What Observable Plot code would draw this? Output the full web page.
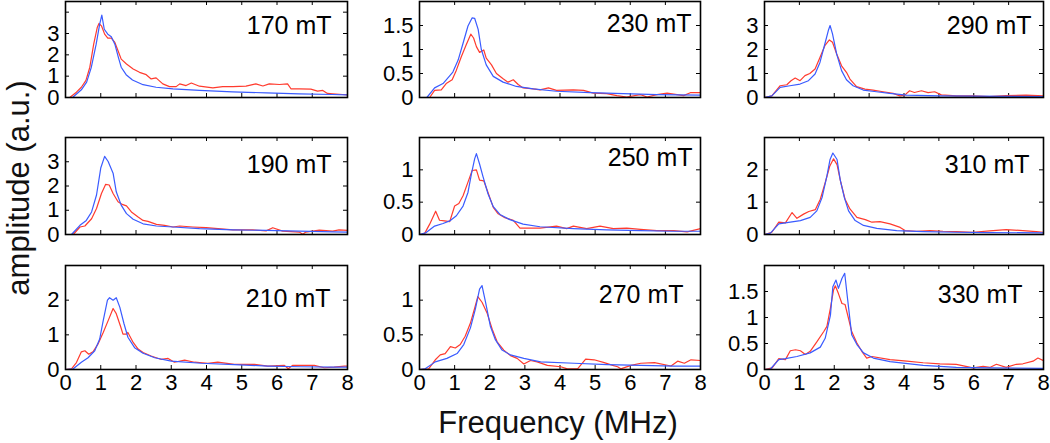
<!DOCTYPE html>
<html><head><meta charset="utf-8">
<script src="https://cdn.jsdelivr.net/npm/d3@7"></script>
<script src="https://cdn.jsdelivr.net/npm/@observablehq/plot@0.6"></script>
<style>
body{margin:0;background:#fff;}
#chart{position:relative;width:1050px;height:443px;font-family:"Liberation Sans",Arial,sans-serif;overflow:hidden;}
#chart svg{position:absolute;}
</style></head><body><div id="chart"></div>
<script>
// ---- data (frequency MHz, amplitude a.u.) ----
const fieldLabels = ["170 mT","190 mT","210 mT","230 mT","250 mT","270 mT","290 mT","310 mT","330 mT"];
const xTicks = [0,1,2,3,4,5,6,7,8];
const yMaxes = [4.5, 4, 3, 2, 1.5, 1.5, 4, 3, 2];
const yTickLabels = [[0,1,2,3],[0,1,2,3],[0,1,2],[0,0.5,1,1.5],[0,0.5,1],[0,0.5,1],[0,1,2,3],[0,1,2],[0,0.5,1,1.5]];
const yTickMarks = [[1,2,3,4],[1,2,3],[1,2],[0.5,1,1.5],[0.5,1],[0.5,1],[1,2,3],[1,2],[0.5,1,1.5]];

const blue170 = [[0,0],[0.2,0],[0.45,0.36],[0.6,0.72],[0.73,1.4],[0.87,2.5],[0.97,3.44],[1.03,3.86],[1.1,3.2],[1.2,2.97],[1.3,2.85],[1.4,2.5],[1.5,1.88],[1.58,1.42],[1.72,1.07],[1.9,0.82],[2.2,0.6],[2.57,0.48],[3.05,0.4],[3.8,0.33],[4.74,0.26],[5.7,0.22],[6.63,0.17],[7.57,0.14],[8,0.12]];
const red170 = [[0,0],[0.12,0],[0.31,0.25],[0.45,0.48],[0.58,0.8],[0.69,1.42],[0.8,2.5],[0.9,3.28],[0.95,3.47],[1.02,3.36],[1.11,2.97],[1.2,2.78],[1.3,2.78],[1.4,2.58],[1.49,2.19],[1.58,1.8],[1.73,1.57],[1.92,1.34],[2.1,1.18],[2.29,1.07],[2.43,0.87],[2.57,0.92],[2.76,0.64],[2.95,0.51],[3.14,0.51],[3.24,0.64],[3.42,0.56],[3.57,0.68],[3.8,0.53],[4.18,0.45],[4.46,0.51],[4.75,0.51],[5.12,0.53],[5.4,0.64],[5.6,0.54],[5.78,0.64],[6.07,0.61],[6.3,0.64],[6.4,0.4],[6.63,0.4],[6.96,0.39],[7.15,0.3],[7.3,0.33],[7.43,0.19],[7.58,0.17],[7.86,0.14],[8,0.12]];

const blue190 = [[0,0],[0.17,0],[0.41,0.38],[0.59,0.58],[0.74,0.93],[0.88,1.63],[1.0,2.74],[1.11,3.22],[1.21,3.01],[1.35,2.53],[1.44,1.76],[1.58,1.21],[1.73,0.86],[1.92,0.63],[2.2,0.44],[2.58,0.35],[3.05,0.31],[3.8,0.24],[4.75,0.19],[5.69,0.17],[6.63,0.14],[7.58,0.11],[8,0.1]];
const red190 = [[0,0],[0.22,0],[0.41,0.31],[0.55,0.35],[0.74,0.65],[0.88,1.07],[1.02,1.69],[1.14,2.07],[1.24,2.04],[1.35,1.69],[1.49,1.35],[1.61,1.24],[1.73,1.18],[1.87,0.93],[2.06,0.72],[2.2,0.58],[2.34,0.54],[2.58,0.42],[2.81,0.38],[3.05,0.31],[3.24,0.35],[3.61,0.31],[3.99,0.28],[4.75,0.19],[5.31,0.19],[5.69,0.15],[5.88,0.28],[6.16,0.14],[6.63,0.1],[6.73,0.01],[6.82,0.1],[7.2,0.18],[7.58,0.14],[7.76,0.19],[8,0.17]];

const blue210 = [[0,0],[0.22,0.02],[0.45,0.21],[0.64,0.34],[0.83,0.54],[0.97,0.88],[1.07,1.41],[1.19,2.0],[1.25,2.07],[1.35,2.0],[1.44,2.07],[1.54,1.8],[1.66,1.32],[1.77,0.93],[1.96,0.63],[2.2,0.47],[2.53,0.34],[3.0,0.24],[3.85,0.18],[4.79,0.14],[5.74,0.1],[6.68,0.08],[7.62,0.07],[8,0.07]];
const red210 = [[0,0],[0.17,0.02],[0.31,0.2],[0.45,0.51],[0.55,0.54],[0.66,0.44],[0.78,0.51],[0.92,0.73],[1.07,1.07],[1.21,1.41],[1.35,1.76],[1.44,1.61],[1.57,1.22],[1.63,1.02],[1.73,1.02],[1.77,1.07],[1.92,0.78],[2.06,0.59],[2.2,0.49],[2.43,0.39],[2.72,0.29],[2.91,0.32],[3.09,0.21],[3.38,0.27],[3.66,0.21],[4.04,0.18],[4.32,0.21],[4.79,0.15],[5.36,0.15],[5.74,0.1],[6.21,0.12],[6.32,0.02],[6.44,0.12],[7.06,0.12],[7.34,0.05],[7.62,0.07],[7.91,0.1],[8,0.1]];

const blue230 = [[0,0],[0.21,0],[0.43,0.2],[0.67,0.29],[0.95,0.53],[1.1,0.78],[1.24,1.13],[1.38,1.49],[1.5,1.66],[1.57,1.65],[1.67,1.42],[1.76,1.0],[1.9,0.68],[2.1,0.44],[2.38,0.32],[2.76,0.23],[3.24,0.18],[3.9,0.13],[4.86,0.1],[5.8,0.08],[6.76,0.06],[8,0.05]];
const red230 = [[0,0],[0.29,0],[0.43,0.15],[0.62,0.16],[0.76,0.29],[0.93,0.37],[1.05,0.57],[1.19,0.85],[1.33,1.1],[1.46,1.32],[1.54,1.24],[1.62,1.06],[1.71,0.94],[1.83,0.99],[1.9,0.82],[2.05,0.68],[2.19,0.5],[2.38,0.39],[2.52,0.32],[2.67,0.37],[2.81,0.27],[2.95,0.2],[3.24,0.18],[3.43,0.16],[3.67,0.2],[3.9,0.15],[4.38,0.16],[4.67,0.15],[4.95,0.09],[5.33,0.08],[5.62,0.04],[5.9,0.01],[6.29,0.06],[6.48,0.01],[6.76,0.06],[7.05,0.09],[7.52,0.04],[7.71,0.1],[8,0.1]];

const blue250 = [[0,0],[0.19,0.03],[0.43,0.13],[0.67,0.17],[0.86,0.21],[1.05,0.29],[1.24,0.44],[1.38,0.65],[1.48,0.94],[1.57,1.17],[1.62,1.25],[1.71,1.09],[1.81,0.89],[1.95,0.63],[2.1,0.43],[2.29,0.31],[2.57,0.23],[2.95,0.16],[3.43,0.12],[4.38,0.09],[5.33,0.07],[6.29,0.06],[7.24,0.05],[8,0.05]];
const red250 = [[0,0],[0.14,0.01],[0.29,0.16],[0.46,0.36],[0.57,0.22],[0.71,0.21],[0.86,0.2],[1.0,0.44],[1.12,0.48],[1.24,0.6],[1.38,0.81],[1.5,0.99],[1.62,1.0],[1.71,0.84],[1.83,0.83],[1.95,0.65],[2.1,0.42],[2.24,0.32],[2.43,0.26],[2.67,0.22],[2.86,0.1],[3.05,0.1],[3.43,0.1],[3.9,0.13],[4.19,0.09],[4.38,0.13],[4.76,0.09],[5.14,0.13],[5.52,0.09],[5.9,0.1],[6.29,0.08],[6.76,0.06],[7.24,0.06],[7.62,0.04],[8,0.09]];

const blue270 = [[0,0],[0.16,0.01],[0.45,0.11],[0.78,0.16],[1.07,0.23],[1.26,0.36],[1.45,0.6],[1.59,0.87],[1.71,1.16],[1.78,1.21],[1.88,0.97],[2.02,0.62],[2.16,0.43],[2.35,0.28],[2.59,0.21],[2.97,0.16],[3.45,0.11],[4.4,0.09],[5.35,0.07],[6.3,0.06],[7.26,0.05],[8,0.05]];
const red270 = [[0,0],[0.26,0.01],[0.45,0.14],[0.59,0.21],[0.73,0.23],[0.88,0.33],[1.02,0.31],[1.16,0.36],[1.3,0.48],[1.45,0.67],[1.59,0.92],[1.66,1.05],[1.78,0.97],[1.92,0.82],[2.07,0.58],[2.21,0.4],[2.4,0.28],[2.59,0.2],[2.78,0.16],[2.97,0.08],[3.16,0.13],[3.35,0.11],[3.64,0.06],[4.02,0.04],[4.21,0.01],[4.5,0.01],[4.73,0.15],[4.97,0.14],[5.26,0.1],[5.5,0.06],[5.64,0.04],[5.73,0.01],[6.02,0.06],[6.3,0.09],[6.69,0.1],[7.16,0.05],[7.35,0.12],[7.54,0.09],[7.73,0.14],[8,0.13]];

const blue290 = [[0,0],[0.21,0.07],[0.45,0.42],[0.73,0.49],[1.02,0.56],[1.26,0.7],[1.45,0.98],[1.59,1.46],[1.73,2.23],[1.83,2.79],[1.88,3.0],[1.95,2.65],[2.07,1.81],[2.21,1.12],[2.35,0.74],[2.54,0.49],[2.83,0.31],[3.21,0.24],[3.59,0.17],[4.07,0.1],[5.02,0.07],[5.97,0.06],[8,0.04]];
const red290 = [[0,0],[0.21,0.07],[0.45,0.49],[0.64,0.53],[0.76,0.7],[0.88,0.81],[1.02,0.7],[1.16,0.91],[1.3,1.0],[1.45,1.19],[1.59,1.67],[1.73,2.16],[1.86,2.4],[1.95,2.3],[2.07,1.81],[2.21,1.32],[2.35,1.05],[2.45,0.77],[2.64,0.45],[2.88,0.35],[3.11,0.31],[3.4,0.24],[3.69,0.17],[3.88,0.07],[4.02,0.1],[4.16,0.28],[4.3,0.21],[4.5,0.28],[4.69,0.2],[4.88,0.24],[5.07,0.11],[5.5,0.07],[5.97,0.07],[6.45,0.04],[6.92,0.08],[7.5,0.1],[8,0.07]];

const blue310 = [[0,0],[0.17,0.04],[0.41,0.33],[0.74,0.38],[1.03,0.43],[1.31,0.53],[1.5,0.73],[1.65,1.14],[1.79,1.81],[1.88,2.32],[1.96,2.52],[2.08,2.32],[2.17,1.7],[2.29,1.14],[2.41,0.73],[2.6,0.43],[2.84,0.28],[3.22,0.19],[3.79,0.12],[4.55,0.09],[5.5,0.07],[6.46,0.06],[8,0.05]];
const red310 = [[0,0],[0.21,0.07],[0.41,0.38],[0.6,0.36],[0.79,0.68],[0.93,0.5],[1.12,0.63],[1.27,0.71],[1.46,0.77],[1.6,1.09],[1.74,1.6],[1.87,2.11],[1.98,2.34],[2.08,2.16],[2.19,1.6],[2.31,1.09],[2.45,0.79],[2.65,0.53],[2.89,0.46],[3.08,0.38],[3.31,0.4],[3.6,0.33],[3.89,0.22],[4.03,0.12],[4.36,0.1],[4.74,0.12],[5.12,0.1],[5.5,0.09],[5.98,0.07],[6.46,0.11],[6.93,0.15],[7.41,0.12],[7.79,0.09],[8,0.07]];

const blue330 = [[0,0],[0.17,0.01],[0.41,0.19],[0.6,0.21],[0.93,0.25],[1.31,0.32],[1.6,0.43],[1.74,0.6],[1.89,1.04],[1.96,1.59],[2.05,1.72],[2.12,1.56],[2.22,1.75],[2.3,1.85],[2.38,1.37],[2.5,0.67],[2.65,0.48],[2.84,0.32],[3.12,0.22],[3.6,0.15],[4.55,0.08],[5.5,0.04],[6.46,0.03],[8,0.02]];
const red330 = [[0,0],[0.22,0.03],[0.41,0.21],[0.6,0.19],[0.74,0.36],[0.89,0.38],[1.03,0.36],[1.17,0.29],[1.31,0.35],[1.5,0.53],[1.7,0.73],[1.79,0.83],[1.89,1.18],[1.98,1.53],[2.03,1.61],[2.12,1.46],[2.22,1.27],[2.31,1.25],[2.41,0.98],[2.5,0.73],[2.65,0.51],[2.79,0.35],[2.93,0.22],[3.08,0.25],[3.6,0.19],[4.08,0.16],[4.55,0.13],[5.03,0.11],[5.5,0.1],[5.98,0.03],[6.27,0.06],[6.46,0.04],[6.65,0.1],[6.93,0.04],[7.22,0.1],[7.41,0.11],[7.7,0.16],[7.84,0.22],[8,0.17]];

const blueSeries = [blue170, blue190, blue210, blue230, blue250, blue270, blue290, blue310, blue330];
const redSeries = [red170, red190, red210, red230, red250, red270, red290, red310, red330];

// ---- layout ----
const FONT = '"Liberation Sans", Arial, Helvetica, sans-serif';
const BLUE = "#3a5bff", RED = "#ff3b2e";
const colLeft = [65, 419, 764];
const colW = [282, 281, 279];
const rowTop = [1, 137, 265];
const rowH = [96, 97, 104];
const labelInset = [[16, 15], [16, 18], [17, 24], [9, 13], [8, 11], [17, 20], [12, 15], [14, 18], [21, 20]];

const chart = document.getElementById("chart");

for (let i = 0; i < 9; i++) {
  const col = Math.floor(i / 3), row = i % 3;
  const bottom = row === 2;
  const mL = 60, mR = 4, mT = 4, mB = bottom ? 34 : 4;
  const innerH = rowH[row], innerW = colW[col];
  const marks = [
    Plot.tickX(xTicks, {x: d => d, insetTop: innerH - 4, stroke: "#000", strokeWidth: 1}),
    Plot.tickX(xTicks, {x: d => d, insetBottom: innerH - 4, stroke: "#000", strokeWidth: 1}),
    Plot.tickY(yTickMarks[i], {y: d => d, insetRight: innerW - 4, stroke: "#000", strokeWidth: 1}),
    Plot.tickY(yTickMarks[i], {y: d => d, insetLeft: innerW - 4, stroke: "#000", strokeWidth: 1}),
    Plot.line(redSeries[i], {x: d => d[0], y: d => d[1], stroke: RED, strokeWidth: 1.2}),
    Plot.line(blueSeries[i], {x: d => d[0], y: d => d[1], stroke: BLUE, strokeWidth: 1.2}),
    Plot.axisY({ticks: yTickLabels[i], tickSize: 0, tickPadding: 6, tickFormat: d => String(d), label: null, fontSize: 22}),
    Plot.text([fieldLabels[i]], {frameAnchor: "top-right", dx: -labelInset[i][0], dy: labelInset[i][1], textAnchor: "end", lineAnchor: "top", fontSize: 25, fill: "#000"}),
    Plot.frame({stroke: "#000", strokeWidth: 1.6})
  ];
  if (bottom) marks.push(Plot.axisX({ticks: xTicks, tickSize: 0, tickPadding: 5, tickFormat: d => String(d), label: null, fontSize: 22}));
  const svg = Plot.plot({
    width: innerW + mL + mR,
    height: innerH + mT + mB,
    marginLeft: mL, marginRight: mR, marginTop: mT, marginBottom: mB,
    style: {fontFamily: FONT, fontSize: "22px", background: "none", color: "#000", overflow: "visible"},
    x: {domain: [0, 8], axis: bottom ? undefined : null},
    y: {domain: [0, yMaxes[i]]},
    marks
  });
  svg.style.left = (colLeft[col] - mL) + "px";
  svg.style.top = (rowTop[row] - mT) + "px";
  svg.style.maxWidth = "none";
  chart.appendChild(svg);
}

// titles
const t = d3.select(chart).append("svg")
  .attr("width", 1050).attr("height", 443)
  .style("left", "0px").style("top", "0px").style("pointer-events", "none")
  .style("font-family", FONT);
t.append("text").attr("x", 558).attr("y", 433).attr("text-anchor", "middle")
  .attr("font-size", 31).attr("fill", "#111").text("Frequency (MHz)");
t.append("text").attr("transform", "translate(29,188) rotate(-90)").attr("text-anchor", "middle")
  .attr("font-size", 31).attr("fill", "#111").text("amplitude (a.u.)");
</script></body></html>
